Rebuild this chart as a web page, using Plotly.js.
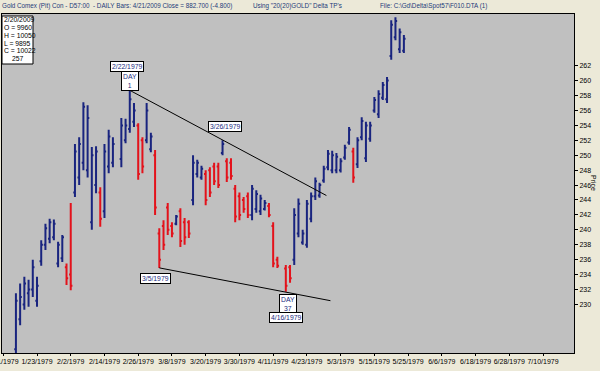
<!DOCTYPE html>
<html><head><meta charset="utf-8">
<script src="https://cdn.plot.ly/plotly-3.0.1.min.js"></script>
<style>html,body{margin:0;padding:0;background:#ECE9D8;}#chart{width:600px;height:371px;}</style>
</head><body><div id="chart"></div>
<script>
// ---------- DATA ----------
const dates = ['1979-01-16','1979-01-17','1979-01-18','1979-01-19','1979-01-22','1979-01-23','1979-01-24','1979-01-25','1979-01-26','1979-01-29','1979-01-30','1979-01-31','1979-02-01','1979-02-02','1979-02-05','1979-02-06','1979-02-07','1979-02-08','1979-02-09','1979-02-12','1979-02-13','1979-02-14','1979-02-15','1979-02-16','1979-02-20','1979-02-21','1979-02-22','1979-02-23','1979-02-26','1979-02-27','1979-02-28','1979-03-01','1979-03-02','1979-03-05','1979-03-06','1979-03-07','1979-03-08','1979-03-09','1979-03-12','1979-03-13','1979-03-14','1979-03-15','1979-03-16','1979-03-19','1979-03-20','1979-03-21','1979-03-22','1979-03-23','1979-03-26','1979-03-27','1979-03-28','1979-03-29','1979-03-30','1979-04-02','1979-04-03','1979-04-04','1979-04-05','1979-04-06','1979-04-09','1979-04-10','1979-04-11','1979-04-12','1979-04-16','1979-04-17','1979-04-18','1979-04-19','1979-04-20','1979-04-23','1979-04-24','1979-04-25','1979-04-26','1979-04-27','1979-04-30','1979-05-01','1979-05-02','1979-05-03','1979-05-04','1979-05-07','1979-05-08','1979-05-09','1979-05-10','1979-05-11','1979-05-14','1979-05-15','1979-05-16','1979-05-17','1979-05-18','1979-05-21','1979-05-22','1979-05-23','1979-05-24'];
const highs  = [231.5,232.8,233.7,233.3,236.0,233.7,238.6,240.8,241.5,241.4,238.4,239.3,235.5,243.6,251.5,252.4,257.1,256.7,251.1,251.2,245.7,251.5,253.4,252.4,255.0,254.9,258.7,257.0,254.3,252.4,257.0,253.0,250.7,240.2,241.3,243.6,241.0,242.0,242.9,241.6,241.3,250.0,249.4,248.6,248.0,248.4,249.0,249.0,252.0,249.6,249.6,246.0,245.0,244.4,245.0,246.0,245.3,244.7,244.0,243.6,241.0,236.4,235.3,235.3,242.9,244.2,240.0,244.0,245.0,247.0,246.3,248.6,250.7,250.6,250.3,249.6,251.4,253.8,251.0,252.4,255.1,254.5,254.5,257.8,258.7,259.8,260.5,268.1,268.5,267.0,266.1];
const lows   = [222.5,227.2,229.3,229.7,231.0,229.7,235.2,237.3,238.2,238.6,235.0,235.7,232.6,231.9,244.4,246.0,248.0,247.0,240.0,244.9,240.4,241.6,247.6,248.4,248.4,251.6,253.0,253.8,246.7,247.6,251.6,250.4,242.0,234.9,237.3,239.3,239.0,240.6,237.7,238.0,238.9,243.3,247.0,246.7,243.3,244.4,246.0,245.6,250.0,246.4,246.7,241.0,241.3,242.3,241.6,241.3,242.3,242.0,242.6,241.7,235.0,234.9,231.7,232.9,235.3,239.0,238.0,237.6,241.0,244.0,244.3,246.3,248.0,247.6,247.6,247.7,249.4,251.4,246.3,248.3,252.0,249.1,251.8,255.7,255.0,257.4,257.0,262.8,265.4,263.7,263.7];
const opens  = [224.0,228.0,230.0,231.5,232.0,230.5,235.8,238.0,238.8,239.0,235.5,236.2,235.0,234.0,245.0,247.0,249.0,248.0,241.0,246.0,245.0,242.5,248.5,249.0,249.5,252.0,253.5,254.5,254.0,252.0,252.0,250.8,250.0,239.5,240.5,243.0,240.5,240.8,242.5,241.0,241.0,244.0,247.5,247.0,247.5,248.0,248.5,248.5,250.3,249.2,249.0,245.5,244.5,244.0,244.5,242.0,242.8,242.5,242.8,243.2,240.5,236.0,234.8,235.0,236.0,239.5,238.3,238.0,241.5,244.5,244.6,246.6,248.4,248.0,248.0,248.0,249.7,251.7,250.5,248.8,252.4,249.6,252.2,256.0,255.5,257.7,257.5,263.3,265.8,264.2,264.0];
const closes = [230.5,231.0,232.8,232.0,235.0,232.5,238.0,240.2,241.0,240.8,238.0,239.0,233.5,232.5,250.5,251.5,256.5,255.0,250.0,250.5,241.5,250.5,252.5,251.5,254.0,254.0,257.5,256.0,247.5,248.5,256.0,252.5,243.0,236.0,238.0,240.0,239.5,241.8,238.5,239.0,239.5,249.0,249.0,248.2,244.0,245.0,246.5,246.0,251.5,247.0,247.2,241.8,242.0,242.8,242.0,245.5,244.8,244.2,243.6,242.0,235.5,235.2,232.5,233.5,242.0,243.5,239.5,243.5,244.5,246.5,246.0,248.2,250.2,250.0,249.8,249.2,251.0,253.4,247.0,252.0,254.6,254.0,254.0,257.4,258.2,259.4,260.0,267.5,268.0,266.5,265.6];

const xTickDates = ['1979-01-11','1979-01-23','1979-02-02','1979-02-14','1979-02-26','1979-03-08','1979-03-20','1979-03-30','1979-04-11','1979-04-23','1979-05-03','1979-05-15','1979-05-25','1979-06-06','1979-06-18','1979-06-28','1979-07-10'];
const yTicks = [230,232,234,236,238,240,242,244,246,248,250,252,254,256,258,260,262];
const infoLines = ['2/20/2009','O = 9960','H = 10050','L = 9895','C = 10022','257'];
const headerTexts = ['Gold Comex (Pit) Con - D57:00  - DAILY Bars: 4/21/2009 Close = 882.700 (-4.800)', 'Using "20(20)GOLD" Delta TP\'s', 'File: C:\\Gd\\Delta\\Spot57\\F010.DTA (1)'];
const pivotTop = ['1979-02-22','1979-03-26'];
const pivotLow = ['1979-03-05','1979-04-16'];
const topLineEnd = ['1979-04-27T15:00', 244.6];
const lowLineEnd = ['1979-04-30T14:00', 230.5];
const dayLabels = ['DAY<br>1','DAY<br>37'];

// ---------- HELPERS ----------
const BASE = Date.UTC(1979,0,23), DAY = 86400000;
function tradeIdx(s){
  const parts = s.split('T');
  const [Y,M,D] = parts[0].split('-').map(Number);
  const ms = Date.UTC(Y,M-1,D);
  let n = 0;
  if (ms >= BASE){ for (let u=BASE; u<ms; u+=DAY){ const w=new Date(u+DAY).getUTCDay(); if(w!==0&&w!==6) n++; } }
  else { for (let u=BASE; u>ms; u-=DAY){ const w=new Date(u).getUTCDay(); if(w!==0&&w!==6) n--; } }
  let frac = 0;
  if (parts[1]){ const [h,m]=parts[1].split(':').map(Number); frac=(h+m/60)/24; }
  return n+frac;
}
function fmt(s){ const [Y,M,D]=s.split('-').map(Number); return M+'/'+D+'/'+Y; }
const X = dates.map(tradeIdx);
const at = d => dates.indexOf(d);

const L0=2, R0=574, T0=14, B0=353;
const px = p => (p-L0)/(R0-L0);
const py = p => 1-(p-T0)/(B0-T0);

const FONT = 'Liberation Sans, Arial, sans-serif';
const BLUE = '#19247f', RED = '#e3121b', NAVY = '#1a2a80';

const trace = {
  type:'ohlc', x:X, open:opens, high:highs, low:lows, close:closes,
  increasing:{line:{color:BLUE, width:2}}, decreasing:{line:{color:RED, width:2}},
  tickwidth:0.4, hoverinfo:'skip'
};

const shapes = [
  {type:'rect', xref:'paper', yref:'paper', x0:px(2), x1:px(33), y0:py(16), y1:py(64), fillcolor:'#ffffff', line:{color:'#000', width:1}, layer:'above'},
  {type:'line', xref:'x', yref:'y', x0:tradeIdx(pivotTop[0]), y0:highs[at(pivotTop[0])], x1:tradeIdx(topLineEnd[0]), y1:topLineEnd[1], line:{color:'#000', width:1}},
  {type:'line', xref:'x', yref:'y', x0:tradeIdx(pivotLow[0]), y0:lows[at(pivotLow[0])], x1:tradeIdx(lowLineEnd[0]), y1:lowLineEnd[1], line:{color:'#000', width:1}}
];

const boxAnn = (x, y, text, xs, ys) => ({xref:'x', yref:'y', x:x, y:y, text:text, showarrow:false, xshift:xs, yshift:ys,
  xanchor:'center', yanchor:'middle',
  bgcolor:'#ffffff', bordercolor:'#000', borderwidth:1, borderpad:1, font:{family:FONT, size:6.8, color:NAVY}});

const annotations = [
  boxAnn(tradeIdx(pivotTop[0]), highs[at(pivotTop[0])], fmt(pivotTop[0]), -3, 23.5),
  boxAnn(tradeIdx(pivotTop[0]), highs[at(pivotTop[0])], dayLabels[0], 0, 9.5),
  boxAnn(tradeIdx(pivotTop[1]), highs[at(pivotTop[1])], fmt(pivotTop[1]), 2.5, 13.5),
  boxAnn(tradeIdx(pivotLow[0]), lows[at(pivotLow[0])], fmt(pivotLow[0]), -4, -11),
  boxAnn(tradeIdx(pivotLow[1]), lows[at(pivotLow[1])], dayLabels[1], 2, -12.5),
  boxAnn(tradeIdx(pivotLow[1]), lows[at(pivotLow[1])], fmt(pivotLow[1]), 0, -25.5),
  {xref:'paper', yref:'paper', x:px(594), y:py(183), xanchor:'center', yanchor:'middle', text:'Price', textangle:90, showarrow:false, font:{family:FONT, size:7, color:'#000'}}
];
const infoY = [19.5, 27.5, 35.5, 43.5, 51, 58.5];
const infoX = [3.5, 3.5, 3.5, 3.5, 3.5, 12];
infoLines.forEach((t,i)=>annotations.push({xref:'paper', yref:'paper', x:px(infoX[i]), y:py(infoY[i]), xanchor:'left', yanchor:'middle', xshift:-2, text:t, showarrow:false, font:{family:FONT, size:6.8, color:'#000'}}));
const headX = [2, 253, 380];
headerTexts.forEach((t,i)=>annotations.push({xref:'paper', yref:'paper', x:px(headX[i]), y:py(6), xanchor:'left', yanchor:'middle', xshift:-2, text:t, showarrow:false, font:{family:FONT, size:6.3, color:'#1c3a78'}}));

const layout = {
  width:600, height:371, paper_bgcolor:'#ECE9D8', plot_bgcolor:'#C0C0C0',
  margin:{l:L0, r:600-R0, t:T0, b:371-B0}, showlegend:false,
  xaxis:{range:[-8.3,127.34], tickvals:xTickDates.map(tradeIdx), ticktext:xTickDates.map(fmt),
    tickfont:{family:FONT, size:7, color:'#000'}, tickangle:0, ticks:'outside', ticklen:2, tickcolor:'#000',
    showline:true, mirror:true, linecolor:'#000', linewidth:1, showgrid:false, zeroline:false,
    ticklabeloverflow:'allow', rangeslider:{visible:false}, fixedrange:true},
  yaxis:{range:[223.49,268.93], side:'right', tickvals:yTicks, ticks:'outside', ticklen:3, tickcolor:'#000',
    tickfont:{family:FONT, size:7, color:'#000'}, showline:true, mirror:true, linecolor:'#000', linewidth:1,
    showgrid:false, zeroline:false, fixedrange:true},
  shapes:shapes, annotations:annotations
};
Plotly.newPlot('chart', [trace], layout, {displayModeBar:false, staticPlot:true});
</script></body></html>
